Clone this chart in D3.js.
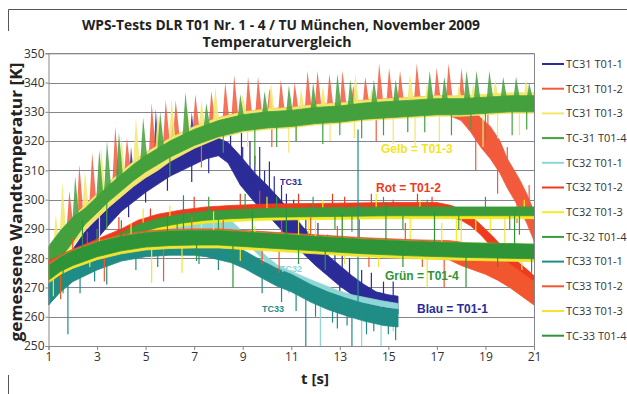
<!DOCTYPE html>
<html>
<head>
<meta charset="utf-8">
<script src="https://cdn.jsdelivr.net/npm/d3@7"></script>
<style>
  html, body { margin: 0; padding: 0; background: #fff; overflow: hidden; }
  svg { display: block; }
</style>
</head>
<body>
<svg id="chart" width="627" height="394"></svg>
<script>
// ---- Axis ticks ----
const xTicks = [1, 3, 5, 7, 9, 11, 13, 15, 17, 19, 21];
const yTicks = [250, 260, 270, 280, 290, 300, 310, 320, 330, 340, 350];

// ---- Series names (legend order = drawing order) ----
const seriesNames = [
  "TC31 T01-1", "TC31 T01-2", "TC31 T01-3", "TC-31 T01-4",
  "TC32 T01-1", "TC32 T01-2", "TC32 T01-3", "TC-32 T01-4",
  "TC33 T01-1", "TC33 T01-2", "TC33 T01-3", "TC-33 T01-4"
];

// ---- Measured signal envelopes: [t (s), min T (K), max T (K)] ----
const tc31_1_env = [[1,264,272],[1.5,269,277],[2,275,283],[2.5,281,289],[3,286.5,293.5],[3.5,291.5,298.5],[4,296,302.5],[5,302.5,309],[6,308,314],[7,312,318.5],[7.5,314,320],[8,315,321],[8.4,312.5,319.5],[8.9,305,315],[9.5,299,309],[10,295,305],[10.5,290.5,300.5],[11,286,295.5],[11.5,281.5,290.5],[12,277.5,286],[12.5,274,281],[13,270.5,277.5],[13.5,267.5,274],[14,264.5,271],[14.5,262.5,268.5],[15,261.5,267.5],[15.4,261,267]];
const tc31_2_env = [[1,275,283],[1.5,281,288.5],[2,286,293.5],[2.5,290.5,298],[3,294.5,302],[3.5,298.5,306],[4,302,309.5],[4.5,305.5,313],[5,308.5,316],[5.5,311,318.5],[6,314.3,321],[7,318.3,325],[8,321.3,328],[9,323.3,330],[10,324.3,331],[11,324.8,331.5],[12,325.8,332.5],[13,326.3,333],[14,327.3,334],[15,327.8,334.5],[16,328.3,335],[17,328.8,335.5],[17.5,328.8,335.5],[18,327,334.5],[18.4,323,332],[18.8,318,328],[19.2,314,325],[19.6,309,320],[19.9,304,314],[20.4,297,307],[20.7,292,302],[21,286,296]];
const tc31_3_env = [[1,273,284],[1.5,279,289],[2,284,294],[2.5,289.5,298],[3,293.5,302],[3.5,297.5,306],[4,301,309.5],[4.5,304.5,313],[5,307.5,316],[5.5,310,318.5],[6,313,321],[7,317.5,325],[8,321,328],[9,323,330],[10,324,331],[11,324.5,331.5],[12,325.5,332.5],[13,326,333],[14,327,334],[15,327.5,334.5],[16,328,335],[17,328.5,335.5],[18,328.5,335.5],[19,329,336],[20,329.5,336.5],[21,329.5,336.5]];
const tc31_4_env = [[1,274,284],[1.5,280,289.5],[2,285.5,294],[2.5,291.5,297],[3,295.5,301],[3.5,299.5,305],[4,303,308.5],[4.5,306.5,312],[5,309.5,315],[5.5,312,317.5],[6,314.5,320],[7,318.5,324],[8,321.5,327],[9,323.5,329],[10,324.5,330],[11,325,330.5],[12,326,331.5],[13,326.5,332],[14,327.5,333],[15,328,333.5],[16,328.5,334],[17,329,334.5],[18,329,334.5],[19,329.5,335],[20,330,335.5],[21,330,335.5]];
const tc32_1_env = [[1,265,269],[1.5,268.5,272.5],[2,272,276],[3,277,281],[4,281,285],[5,284.5,288.5],[6,287,291],[7,288.5,292.5],[8,289.5,293.5],[8.5,290,293],[9,287,289],[9.6,281.5,283.5],[10,278.5,280.5],[10.45,275.5,277.5],[11,273.5,275.5],[11.7,271,273],[12.3,269,271],[12.9,267,269],[13.5,265.5,267.5],[14.1,264.5,266.5],[14.7,263.5,265.5],[15.4,262.5,264.5]];
const tc32_2_env = [[1,274,279],[1.5,276.5,281],[2,278.5,283],[3,282,286.5],[4,285.5,290],[4.7,288.5,293],[5.5,290.5,295],[6.5,292,296.5],[7.5,293,297.5],[8.5,293.5,298],[10,294,298.5],[12,294.2,298.7],[15,294.5,299],[17,294.5,299],[17.6,294,298],[18,293,296.5],[18.4,291,294.5],[18.8,288,291.5],[19.3,283.5,287.5],[19.8,279,283],[20.3,275,279],[20.8,271.5,275.5],[21,270,274]];
const tc32_3_env = [[1,273,277],[1.5,275.5,279],[2,277.5,281],[3,281,284.5],[4,284.5,288],[4.7,287.5,291],[5.5,289.5,293],[6.5,291,294.5],[7.5,292,295.5],[8.5,292.5,296],[10,293,296.5],[12,293.2,296.7],[15,293.5,297],[18,293.5,297],[21,293.5,297]];
const tc32_4_env = [[1,274.5,277.5],[1.5,276.5,279.5],[2,278.5,281.5],[3,282,285],[4,285.5,288.5],[4.7,288.5,291.5],[5.5,290.5,293.5],[6.5,292,295],[7.5,293,296],[8.5,293.5,296.5],[10,294,297],[12,294.2,297.2],[15,294.5,297.5],[18,294.5,297.5],[21,294.5,297.5]];
const tc33_1_env = [[1,264,272],[1.5,268.5,275.5],[2,272,278],[3,276,282],[4,279,285],[5,280.5,286.5],[6,281,287],[7,281,287],[7.5,280.5,286.5],[8,279.5,285.5],[8.5,278.5,284.5],[9.1,276.4,282.4],[9.5,274.5,280.5],[10.4,270.5,276.5],[11,268.5,274.5],[11.8,265,271],[12.5,262.5,268.5],[13.2,260.5,266.5],[14,258.5,264.5],[14.8,257,263],[15.4,256.5,262.5]];
const tc33_2_env = [[1,271.5,278.5],[1.5,275,281],[2,277,283],[3,280,286],[4,282,288],[5,283.3,289.3],[6,283.8,289.8],[7,284,290],[8,284,290],[9,283.5,289.5],[10,283,289],[12,282,288],[14,281,287],[16,280.3,286.3],[17.5,279.5,286],[18,277.5,285.5],[18.5,276,284],[19,274.5,282.5],[19.5,272.5,280.5],[20,270,278],[20.5,267,275],[21,264,272]];
const tc33_3_env = [[1,271.5,277.5],[1.5,274.5,280.5],[2,276.5,282.5],[3,279.5,285.5],[4,281.5,287.5],[5,282.8,288.8],[6,283.3,289.3],[7,283.5,289.5],[8,283.5,289.5],[9,283,289],[10,282.5,288.5],[12,281.5,287.5],[14,280.5,286.5],[16,279.8,285.8],[18,279.3,285.3],[21,278.8,284.8]];
const tc33_4_env = [[1,272.5,277.5],[1.5,275.5,280.5],[2,277.5,282.5],[3,280.5,285.5],[4,282.5,287.5],[5,283.8,288.8],[6,284.3,289.3],[7,284.5,289.5],[8,284.5,289.5],[9,284,289],[10,283.5,288.5],[12,282.5,287.5],[14,281.5,286.5],[16,280.8,285.8],[18,280.3,285.3],[21,279.8,284.8]];

// ---- Periodic heating peaks: [t (s), peak T (K)] ----
const tc31_1_peaks = [[4.4,318],[5.42,331],[6.1,326],[6.9,330]];
const tc31_2_peaks = [[1.86,303],[2.27,312],[2.8,316],[3.75,325],[4.23,321],[5.25,333],[5.83,334],[6.24,334],[7.05,336],[7.71,337],[8.28,340],[8.65,342.5],[9.22,342],[9.63,342],[10.1,338],[10.57,341],[11.14,340],[11.67,344],[12.08,344],[12.57,343],[13.11,344],[13.55,339],[14.05,342],[14.62,346.5],[15.03,345],[15.48,344],[16.17,346.5],[16.99,345],[17.48,346.5],[18.01,345]];
const tc31_3_peaks = [[1.3,295],[1.57,306],[2.5,310],[3.17,318],[4.0,322],[4.6,328],[5.5,330],[6.07,334.6],[6.7,332],[7.3,334],[7.87,338.4],[9.0,336],[10.16,340],[11.4,338],[12.3,339],[13.64,343],[14.3,338],[15.89,343],[16.6,340],[17.9,339],[18.5,340],[19.4,341],[20.67,341]];
const tc31_4_peaks = [[2.1,308],[3.09,317],[3.41,320],[3.9,323],[4.9,328],[5.6,330],[6.64,336.7],[7.5,333],[8.9,336],[9.9,337],[10.9,339],[11.9,340],[12.9,343],[13.43,341],[14.4,341],[15.3,341],[16.7,344],[17.3,342],[18.22,344],[18.63,344],[19.16,344],[19.73,342],[20.26,342],[20.8,340]];

// ---- Single-sample outliers: [t (s), T (K)] ----
const tc31_1_spikes = [[2.6,279],[4.3,294],[5.0,299],[5.9,303],[6.9,306],[7.6,309],[8.5,325],[8.95,323],[9.3,320],[9.7,318],[10.1,313],[10.6,305],[11.3,298],[12.8,284],[14.0,262],[14.6,259],[9.0,318],[9.5,315],[9.9,310],[10.3,308],[10.8,302],[11.1,300],[11.6,296],[12.1,292],[12.5,288],[13.1,283],[13.4,280],[13.9,276],[14.3,275],[14.8,272],[15.2,272],[11.9,280],[13.0,268],[14.4,261]];
const tc31_2_spikes = [[7.3,311],[10.2,318],[14.5,320],[18.6,310],[19.1,330],[19.5,302],[19.9,318],[20.3,292],[20.8,305],[21,279]];
const tc31_3_spikes = [[11.2,320],[13.6,321],[18.9,318],[2.2,302],[9.2,318],[10.9,316],[12.6,320],[15.2,319],[16.1,318],[17.1,320],[19.5,321],[20.4,322]];
const tc31_4_spikes = [[6.0,308],[9.5,312],[12.3,319],[16.5,323],[19.0,320],[3.4,290],[8.2,316],[10.4,318],[11.2,320],[13.0,322],[13.9,321],[14.8,322],[15.8,323],[17.6,322],[18.4,324],[20.1,322],[20.7,324]];
const tc32_1_spikes = [[12.2,250],[13.9,250],[14.7,250],[15.2,255],[10.9,268]];
const tc32_2_spikes = [[7.0,301],[9.7,303],[12.7,302],[15.2,300],[16.2,302],[10.6,288],[13.8,287],[5.2,297],[2.6,289],[3.9,294],[8.9,302],[11.3,302],[13.2,301],[14.3,302],[16.8,301]];
const tc32_3_spikes = [[4.9,297],[8.2,285],[10.0,301],[11.7,286],[14.5,302],[15.9,286],[17.8,282],[19.2,289],[6.0,298],[7.3,288],[9.4,288],[12.3,300],[13.1,286],[16.3,300],[18.6,289],[20.6,300]];
const tc32_4_spikes = [[6.3,286],[9.1,302],[11.9,301],[13.5,289],[17.9,290],[20.4,288],[16.6,300],[3.0,290],[7.6,301],[8.0,288],[10.4,301],[12.8,290],[14.8,301],[15.6,290],[19.0,301],[20.0,290]];
const tc33_1_spikes = [[1.8,254],[6.56,301.5],[11.6,250],[13.5,250],[13.75,324],[12.7,258],[14.1,254],[15.0,254],[15.3,252],[3.4,271],[9.8,268],[10.6,265],[11.2,262],[12.0,260],[12.9,256],[13.3,257],[14.4,255],[8.0,276],[7.2,278],[5.5,277],[4.6,276],[2.9,272],[2.3,268]];
const tc33_2_spikes = [[3.3,272],[5.74,272],[8.2,293],[10.5,275],[12.9,291],[17.3,270],[14.2,277],[1.5,266],[2.0,287],[6.9,294],[9.8,278],[11.8,294],[15.7,292],[16.4,277]];
const tc33_3_spikes = [[3.1,296],[5.25,271.5],[6.5,275],[7.8,296],[9.5,291],[11.3,294],[13.2,278],[16.6,270],[18.0,294],[19.8,294],[1.2,267],[2.7,277],[4.4,292],[8.9,279],[12.0,293],[14.6,277],[17.2,292],[20.5,276]];
const tc33_4_spikes = [[2.4,293],[8.6,270],[10.8,297],[12.4,276],[14.9,299],[18.2,270],[20.9,275],[1.6,268],[4.0,293],[5.9,295],[7.1,279],[9.4,296],[11.3,278],[13.1,295],[15.6,277],[16.9,296],[19.5,277],[20.2,296]];

const seriesColors = [
  "#2c2c98", "#f25a3c", "#f3e66c", "#43a03c",
  "#8fd6d6", "#ee3b1e", "#f5eb1e", "#3b9b3b",
  "#1f8c86", "#f1562e", "#f2e430", "#2f9437"
];

const envs   = [tc31_1_env, tc31_2_env, tc31_3_env, tc31_4_env, tc32_1_env, tc32_2_env, tc32_3_env, tc32_4_env, tc33_1_env, tc33_2_env, tc33_3_env, tc33_4_env];
const peaks  = [tc31_1_peaks, tc31_2_peaks, tc31_3_peaks, tc31_4_peaks, [], [], [], [], [], [], [], []];
const spikes = [tc31_1_spikes, tc31_2_spikes, tc31_3_spikes, tc31_4_spikes, tc32_1_spikes, tc32_2_spikes, tc32_3_spikes, tc32_4_spikes, tc33_1_spikes, tc33_2_spikes, tc33_3_spikes, tc33_4_spikes];

const series = seriesNames.map((name, i) => ({
  name, color: seriesColors[i], env: envs[i], peaks: peaks[i], spikes: spikes[i]
}));
</script>
<script>
const svg = d3.select("#chart");
const font = "'Open Sans', 'DejaVu Sans', sans-serif";
const annFont = "'Liberation Sans', Arial, sans-serif";
const axisGrey = "#85858f";

const x = d3.scaleLinear().domain([1, 21]).range([48.5, 534]);
const y = d3.scaleLinear().domain([250, 350]).range([346, 53.3]);

// outer frame fragments
svg.append("line").attr("x1", 8.5).attr("x2", 627).attr("y1", 9.5).attr("y2", 9.5).attr("stroke", "#555");
svg.append("line").attr("x1", 8.5).attr("x2", 8.5).attr("y1", 9.5).attr("y2", 31).attr("stroke", "#555");
svg.append("line").attr("x1", 8.5).attr("x2", 8.5).attr("y1", 375).attr("y2", 394).attr("stroke", "#555");

// horizontal gridlines and right border
svg.append("g").selectAll("line").data(yTicks.filter(d => d > 250)).join("line")
  .attr("x1", x(1)).attr("x2", x(21))
  .attr("y1", d => Math.round(y(d)) + 0.5).attr("y2", d => Math.round(y(d)) + 0.5)
  .attr("stroke", axisGrey);
svg.append("line").attr("x1", x(21) + 0.5).attr("x2", x(21) + 0.5).attr("y1", y(350)).attr("y2", y(250))
  .attr("stroke", axisGrey);

// series
svg.append("clipPath").attr("id", "plotClip").append("rect")
  .attr("x", x(1)).attr("y", y(350)).attr("width", x(21) - x(1)).attr("height", y(250) - y(350));
const plot = svg.append("g").attr("clip-path", "url(#plotClip)");

// linear lookup of an envelope at time t
function envAt(env, t) {
  if (t <= env[0][0]) return env[0];
  for (let i = 0; i < env.length - 1; i++) {
    const a = env[i], b = env[i + 1];
    if (t >= a[0] && t <= b[0]) {
      const f = (t - a[0]) / (b[0] - a[0]);
      return [t, a[1] + f * (b[1] - a[1]), a[2] + f * (b[2] - a[2])];
    }
  }
  return env[env.length - 1];
}
const mid = (env, t) => { const e = envAt(env, t); return (e[1] + e[2]) / 2; };

const area = d3.area().x(d => x(d[0])).y0(d => y(d[1])).y1(d => y(d[2]));

series.forEach(s => {
  const g = plot.append("g");
  // heating peaks
  g.selectAll("path.peak").data(s.peaks).join("path").attr("class", "peak")
    .attr("d", d => {
      const base = mid(s.env, d[0]);
      return `M${x(d[0] - 0.13)},${y(base)}L${x(d[0])},${y(d[1])}L${x(d[0] + 0.2)},${y(base)}Z`;
    })
    .attr("fill", s.color).attr("fill-opacity", 0.85);
  // envelope band
  g.append("path").datum(s.env).attr("d", area)
    .attr("fill", s.color).attr("stroke", s.color).attr("stroke-width", 0.8);
  // outliers
  g.selectAll("line.spike").data(s.spikes).join("line").attr("class", "spike")
    .attr("x1", d => x(d[0])).attr("x2", d => x(d[0]))
    .attr("y1", d => y(mid(s.env, d[0])))
    .attr("y2", d => y(d[1]))
    .attr("stroke", s.color).attr("stroke-width", 1.2);
});

// axes
const yAxis = svg.append("g").attr("transform", `translate(${x(1)},0)`)
  .call(d3.axisLeft(y).tickValues(yTicks).tickSize(3).tickPadding(1));
const xAxis = svg.append("g").attr("transform", `translate(0,${y(250)})`)
  .call(d3.axisBottom(x).tickValues(xTicks).tickSize(4).tickPadding(2));
[xAxis, yAxis].forEach(a => {
  a.selectAll("path, line").attr("stroke", axisGrey);
  a.selectAll("text").attr("font-family", font).attr("font-size", 12).attr("fill", "#333");
});
svg.append("line").attr("x1", x(1)).attr("x2", x(21)).attr("y1", y(350) + 0.5).attr("y2", y(350) + 0.5).attr("stroke", axisGrey);

// titles
svg.append("text").attr("x", 281).attr("y", 29.5).attr("text-anchor", "middle")
  .attr("font-family", font).attr("font-weight", "bold").attr("font-size", 14.5).attr("fill", "#222")
  .attr("textLength", 398).attr("lengthAdjust", "spacingAndGlyphs")
  .text("WPS-Tests DLR T01 Nr. 1 - 4 / TU München, November 2009");
svg.append("text").attr("x", 277).attr("y", 47).attr("text-anchor", "middle")
  .attr("font-family", font).attr("font-weight", "bold").attr("font-size", 14.5).attr("fill", "#222")
  .attr("textLength", 149).attr("lengthAdjust", "spacingAndGlyphs")
  .text("Temperaturvergleich");
svg.append("text").attr("transform", "translate(22,202) rotate(-90)").attr("text-anchor", "middle")
  .attr("font-family", font).attr("font-weight", "bold").attr("font-size", 15.5).attr("fill", "#222")
  .attr("textLength", 279).attr("lengthAdjust", "spacingAndGlyphs")
  .text("gemessene Wandtemperatur [K]");
svg.append("text").attr("x", 315).attr("y", 384).attr("text-anchor", "middle")
  .attr("font-family", font).attr("font-weight", "bold").attr("font-size", 15).attr("fill", "#222")
  .text("t [s]");

// in-plot labels
const notes = [
  { text: "Gelb = T01-3", x: 381, y: 153, color: "#f2e422", size: 12 },
  { text: "Rot = T01-2", x: 376, y: 192, color: "#ee3b1e", size: 12 },
  { text: "Grün = T01-4", x: 385, y: 280, color: "#2f9437", size: 12 },
  { text: "Blau = T01-1", x: 417, y: 313, color: "#2c2c98", size: 12 },
  { text: "TC31", x: 280, y: 185, color: "#2c2c98", size: 9 },
  { text: "TC32", x: 280, y: 272, color: "#8fd6d6", size: 9 },
  { text: "TC33", x: 262, y: 312, color: "#1f8c86", size: 9 }
];
svg.selectAll("text.note").data(notes).join("text").attr("class", "note")
  .attr("x", d => d.x).attr("y", d => d.y)
  .attr("font-family", annFont).attr("font-weight", "bold").attr("font-size", d => d.size)
  .attr("fill", d => d.color).text(d => d.text);

// legend
const legend = svg.append("g");
series.forEach((s, i) => {
  const ly = 64 + i * 24.7;
  legend.append("line").attr("x1", 542).attr("x2", 564).attr("y1", ly).attr("y2", ly)
    .attr("stroke", s.color).attr("stroke-width", 2);
  legend.append("text").attr("x", 566).attr("y", ly).attr("dy", "0.35em")
    .attr("font-family", font).attr("font-size", 11).attr("fill", "#333").text(s.name);
});
</script>
</body>
</html>
